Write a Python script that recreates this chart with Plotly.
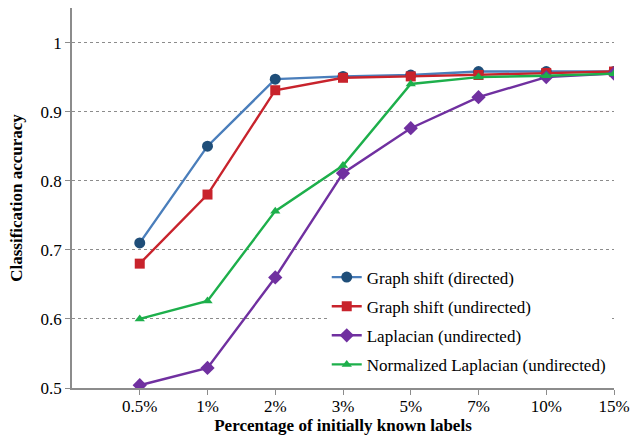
import plotly.graph_objects as go

categories = ["0.5%", "1%", "2%", "3%", "5%", "7%", "10%", "15%"]
gs_directed = [0.710, 0.850, 0.947, 0.951, 0.953, 0.958, 0.958, 0.958]
gs_undirected = [0.680, 0.780, 0.931, 0.949, 0.951, 0.953, 0.956, 0.958]
laplacian = [0.504, 0.529, 0.660, 0.811, 0.876, 0.921, 0.950, 0.955]
norm_laplacian = [0.600, 0.626, 0.756, 0.822, 0.940, 0.950, 0.952, 0.955]
y_ticks = [0.5, 0.6, 0.7, 0.8, 0.9, 1.0]
y_ticklabels = ["0.5", "0.6", "0.7", "0.8", "0.9", "1"]

xs = list(range(len(categories)))
font_family = "Liberation Serif"

fig = go.Figure()
series = [
    ("Graph shift (directed)", gs_directed, "#4A7EBB", "#1F4E79", "circle", 11),
    ("Graph shift (undirected)", gs_undirected, "#C8232C", "#C8232C", "square", 10),
    ("Laplacian (undirected)", laplacian, "#7030A0", "#7030A0", "diamond", 11),
    ("Normalized Laplacian (undirected)", norm_laplacian, "#1DAF4B", "#1DAF4B", "triangle-up", 9),
]
for i, (name, vals, lc, mc, sym, sz) in enumerate(series):
    fig.add_trace(go.Scatter(
        x=xs, y=vals, name=name, mode="lines+markers", legendgroup=f"g{i}",
        line=dict(color=lc, width=2.4),
        marker=dict(color=mc, symbol=sym, size=sz),
    ))

fig.update_layout(
    width=641, height=435,
    margin=dict(l=72, r=27, t=8, b=47),
    paper_bgcolor="white", plot_bgcolor="white",
    font=dict(family=font_family, size=17, color="black"),
    legend=dict(
        x=0.47, y=0.338, xanchor="left", yanchor="top",
        bgcolor="white", font=dict(size=17, family=font_family),
        tracegroupgap=4, itemwidth=30,
    ),
    xaxis=dict(
        range=[-1, 7], tickmode="array", tickvals=xs, ticktext=categories,
        showline=True, linecolor="#8C8C8C", linewidth=1.5,
        ticks="outside", ticklen=5, tickcolor="#8C8C8C",
        ticklabelstandoff=-3,
        showgrid=False, zeroline=False, automargin=False,
        title=dict(text="<b>Percentage of initially known labels</b>", standoff=4,
                   font=dict(size=17, family=font_family)),
    ),
    yaxis=dict(
        range=[0.5, 1.05], tickmode="array", tickvals=y_ticks, ticktext=y_ticklabels,
        showline=True, linecolor="#8C8C8C", linewidth=1.5,
        ticks="outside", ticklen=5, tickcolor="#8C8C8C",
        showgrid=True, gridcolor="#8C8C8C", griddash="dot", gridwidth=1,
        zeroline=False, automargin=False,
        title=dict(text="<b>Classification accuracy</b>", standoff=14,
                   font=dict(size=17, family=font_family)),
    ),
)

fig.write_html(
    "out.html",
    config={"displayModeBar": False},
    post_script="document.body.style.margin='0';document.body.style.padding='0';document.body.style.overflow='hidden';",
)
